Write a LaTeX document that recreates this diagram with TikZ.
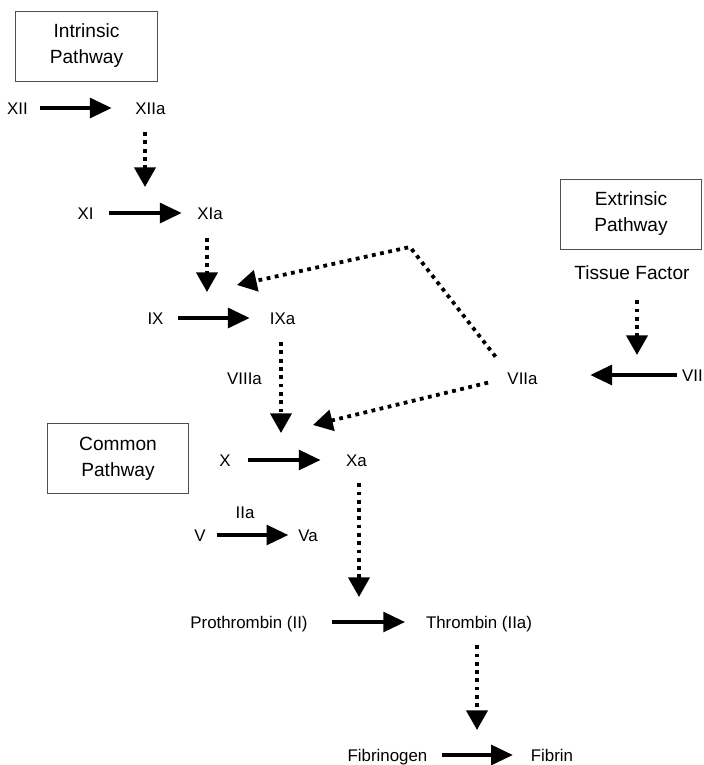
\documentclass[tikz,border=0pt]{standalone}
\usepackage{fontspec}
\setmainfont{Liberation Sans}
\usetikzlibrary{arrows.meta}
\usetikzlibrary{calc}
\tikzset{>=latex}
\definecolor{boxgray}{RGB}{80,80,80}
\tikzstyle{factor}=[inner sep=0pt, text height=8.6pt, text depth=0pt, font=\fontsize{12}{14}\selectfont]
\tikzstyle{bigfactor}=[inner sep=0pt, text height=9.7pt, text depth=0pt, font=\fontsize{13.6}{16}\selectfont]
\tikzstyle{pathbox}=[draw=boxgray, line width=0.7pt, align=center, minimum width=3.53cm, minimum height=1.75cm, inner sep=0pt, font=\fontsize{13.6}{18.5}\selectfont]
\tikzstyle{convert}=[draw=black, line width=2.7pt, -{Triangle[length=15.5pt,width=14pt]}]
\tikzstyle{activate}=[draw=black, line width=2.7pt, dash pattern=on 2.7pt off 3.2pt, -{Triangle[length=14pt,width=15pt]}]

\begin{document}
\begin{tikzpicture}[x=0.025cm,y=-0.025cm]
    \useasboundingbox (0,0) rectangle (704,765);

    \node[pathbox] (intrinsic) at (86.5,46) {Intrinsic\\Pathway};
    \node[pathbox] (extrinsic) at (631,214) {Extrinsic\\Pathway};
    \node[pathbox] (common) at (118,458.5) {Common\\Pathway};

    \node[factor] (XII) at (17.5,108) {XII};
    \node[factor] (XIIa) at (150.5,108) {XIIa};
    \node[factor] (XI) at (85.5,213) {XI};
    \node[factor] (XIa) at (210,213) {XIa};
    \node[factor] (IX) at (155.5,318) {IX};
    \node[factor] (IXa) at (282.5,318) {IXa};
    \node[factor] (VIIIa) at (244.5,378) {VIIIa};
    \node[factor] (X) at (225,460) {X};
    \node[factor] (Xa) at (356.5,460) {Xa};
    \node[factor] (IIa) at (245,512) {IIa};
    \node[factor] (V) at (200,535) {V};
    \node[factor] (Va) at (308,535) {Va};
    \node[factor] (prothrombin) at (249,622) {Prothrombin (II)};
    \node[factor] (thrombin) at (479,622) {Thrombin (IIa)};
    \node[factor] (fibrinogen) at (387.5,755) {Fibrinogen};
    \node[factor] (fibrin) at (552,755) {Fibrin};
    \node[bigfactor] (tissue) at (632,273) {Tissue Factor};
    \node[factor] (VIIa) at (522.5,378) {VIIa};
    \node[factor, anchor=east] (VII) at (703,375) {VII};

    \coordinate (tipXI) at (145,187);
    \coordinate (tipIX) at (207,292);
    \coordinate (tipX) at (281,433);
    \coordinate (tipII) at (359,597);
    \coordinate (tipFib) at (477,730);
    \coordinate (tipVII) at (637,355);
    \coordinate (bend) at (410,247);
    \coordinate (tipIXa) at (237,285);
    \coordinate (tipXa) at (313,425);

    \draw[convert, shorten <=8.7pt, shorten >=16.7pt] (XII) -- (XIIa);
    \draw[convert, shorten <=11pt, shorten >=10.9pt] (XI) -- (XIa);
    \draw[convert, shorten <=10.3pt, shorten >=14.1pt] (IX) -- (IXa);
    \draw[convert, shorten <=12.4pt, shorten >=18pt] (X) -- (Xa);
    \draw[convert, shorten <=8.1pt, shorten >=6.9pt] (V) -- (Va);
    \draw[convert, shorten <=17.4pt, shorten >=14.7pt] (prothrombin) -- (thrombin);
    \draw[convert, shorten <=10.4pt, shorten >=12.6pt] (fibrinogen) -- (fibrin);
    \draw[convert, shorten <=3.5pt, shorten >=37.3pt] (VII) -- (VII -| VIIa.east);

    \draw[activate, shorten <=12.7pt] (XIIa.south -| tipXI) -- (tipXI);
    \draw[activate, shorten <=13.4pt] (XIa.south -| tipIX) -- (tipIX);
    \draw[activate, shorten <=12.7pt] (IXa.south -| tipX) -- (tipX);
    \draw[activate, shorten <=12pt] (Xa.south -| tipII) -- (tipII);
    \draw[activate, shorten <=12pt] (thrombin.south -| tipFib) -- (tipFib);
    \draw[activate, shorten <=14.3pt] (tissue.south -| tipVII) -- (tipVII);
    \draw[activate, shorten <=13.5pt] (VIIa.north west) -- (bend) -- (tipIXa);
    \draw[activate, shorten <=14pt] (VIIa.west) -- (tipXa);
\end{tikzpicture}
\end{document}
